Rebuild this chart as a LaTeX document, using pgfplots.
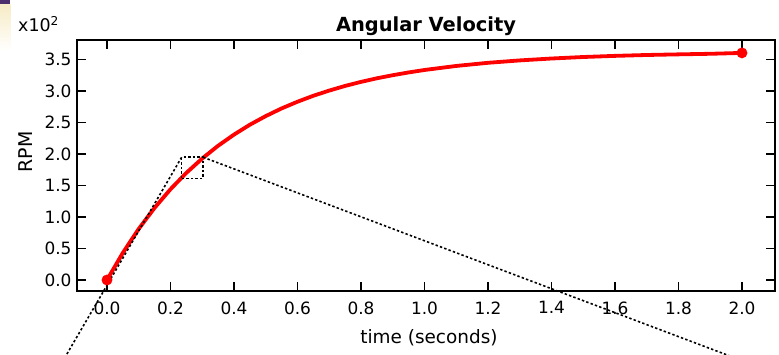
\documentclass[border=0pt]{standalone}
\usepackage{pgfplots}
\pgfplotsset{compat=1.18}
\usepackage{fontspec}
\setmainfont{DejaVu Sans}
\definecolor{slidepurple}{HTML}{4E2F6E}
\definecolor{slidecream}{HTML}{F7ECC6}

% angular velocity of the rotor, RPM against time
\pgfplotstableread{
t     rpm
0.00  0.0
0.05  43.2
0.10  81.2
0.15  114.6
0.20  144.1
0.25  170.1
0.30  192.9
0.35  213.1
0.40  230.8
0.45  246.5
0.50  260.2
0.55  272.4
0.60  283.0
0.65  292.5
0.70  300.7
0.75  308.1
0.80  314.5
0.85  320.2
0.90  325.1
0.95  329.5
1.00  333.4
1.10  339.8
1.20  344.8
1.30  348.6
1.40  351.6
1.50  354.0
1.60  355.8
1.70  357.2
1.80  358.2
1.90  359.1
2.00  360.5
}\velocity

\begin{document}
\begin{tikzpicture}
\path[use as bounding box] (-77bp,-64bp) rectangle (702bp,291bp);
\clip (-77bp,-64bp) rectangle (702bp,291bp);
% corner of the slide background
\fill[slidepurple] (-77bp,291bp) rectangle (-66.5bp,286bp);
\shade[top color=slidecream, bottom color=white] (-77bp,286bp) rectangle (-66.5bp,240bp);

\begin{axis}[
  at={(0,0)}, anchor=south west,
  scale only axis, width=698bp, height=251bp,
  xmin=-0.0945, xmax=2.104,
  ymin=-17.5, ymax=381,
  clip=false,
  axis line style={line width=2bp},
  tick style={line width=1.6bp, black},
  major tick length=9bp,
  tick align=inside, tick pos=both,
  xtick={0,0.2,0.4,0.6,0.8,1.0,1.2,1.4,1.6,1.8,2.0},
  xticklabels={0.0,0.2,0.4,0.6,0.8,1.0,1.2,1.4,1.6,1.8,2.0},
  ytick={0,50,100,150,200,250,300,350},
  yticklabels={0.0,0.5,1.0,1.5,2.0,2.5,3.0,3.5},
  ticklabel style={font=\fontsize{17}{19}\selectfont},
  xticklabel style={yshift=-7bp},
  yticklabel style={xshift=-2bp},
]
\addplot[red, line width=3.8bp, line join=round] table[x=t, y=rpm] {\velocity};
\addplot[red, only marks, mark=*, mark size=5.2bp] coordinates {(0,0) (2.0,360.5)};

% magnifier frame and its guide lines
\begin{scope}[line width=1.6bp, dash pattern=on 2.4bp off 2.2bp, black]
\draw (axis cs:0.235,161.4) rectangle (axis cs:0.303,194.8);
\draw (axis cs:0.235,194.8) -- (axis cs:-0.194,-176.1);
\draw (axis cs:0.303,194.8) -- (axis cs:2.118,-150.4);
\end{scope}
\end{axis}

\node[anchor=base, font=\bfseries\fontsize{19.5}{22}\selectfont] at (349bp,259.5bp) {Angular Velocity};
\node[anchor=base west, inner sep=0pt, font=\fontsize{17.5}{20}\selectfont] at (-59bp,259bp) {x10\textsuperscript{2}};
\node[rotate=90, font=\fontsize{19}{22}\selectfont] at (-51bp,139bp) {RPM};
\node[anchor=base, font=\fontsize{18.5}{22}\selectfont] at (352bp,-52bp) {time (seconds)};
\end{tikzpicture}
\end{document}
